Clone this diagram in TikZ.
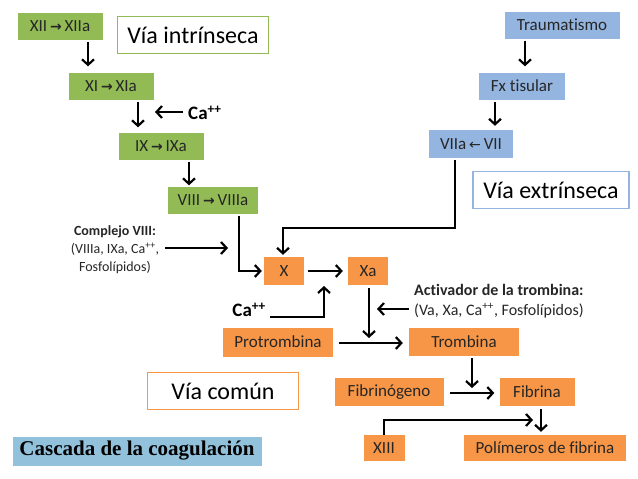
\documentclass[tikz,border=0pt]{standalone}
\usepackage{fontspec}
\setmainfont[Ligatures=NoCommon]{Carlito}
\newfontfamily\symfont{DejaVu Sans}
\newfontfamily\titlefont{Liberation Serif}
\usetikzlibrary{arrows.meta,calc}
\definecolor{cgreen}{HTML}{92BB55}
\definecolor{cblue}{HTML}{93B5E0}
\definecolor{corange}{HTML}{F79646}
\definecolor{ctitle}{HTML}{92C1DC}
\definecolor{ctext}{HTML}{262626}
\newcommand{\ra}{\,{\symfont\bfseries\fontsize{14}{14}\selectfont →}\,}
\newcommand{\la}{\,{\symfont\fontsize{14}{14}\selectfont ←}\,}
\begin{document}
\begin{tikzpicture}[x=1pt,y=-1pt,
  box/.style={inner sep=0pt,minimum height=27pt,text=ctext,font=\fontsize{17}{17}\selectfont},
  gbox/.style={box,fill=cgreen},
  bbox/.style={box,fill=cblue},
  obox/.style={box,fill=corange},
  label/.style={inner sep=0pt,minimum height=37pt,fill=white,line width=1.8pt,font=\fontsize{24}{24}\selectfont},
  arr/.style={line width=2.2pt,-{Straight Barb[length=5.5pt,width=12pt]}},
  ln/.style={line width=2.2pt}
]
\useasboundingbox (0,0) rectangle (638,479);
% intrinsic
\node[gbox,minimum width=85pt] (xii) at (60,26) {XII\ra XIIa};
\node[label,draw=cgreen,minimum width=151pt] (intr) at (193,35) {Vía intrínseca};
\node[gbox,minimum width=85pt] (xi) at (111,86) {XI\ra XIa};
\node[gbox,minimum width=85pt] (ix) at (161,146) {IX\ra IXa};
\node[gbox,minimum width=90pt] (viii) at (213,200) {VIII\ra VIIIa};
\node[anchor=west,inner sep=0pt,font=\fontsize{19}{19}\selectfont\bfseries] (caA) at (188,113) {Ca\textsuperscript{++}};
\coordinate (caAend) at (155,112);
\node[inner sep=0pt,align=center,text=ctext,font=\fontsize{14}{18}\selectfont] (compl) at (115,250) {\textbf{Complejo VIII:}\\(VIIIa, IXa, Ca\textsuperscript{++},\\Fosfolípidos)};
\coordinate (complend) at (228,248);
% extrinsic
\node[bbox,minimum width=115pt] (trauma) at (562,25) {Traumatismo};
\node[bbox,minimum width=86pt] (fx) at (522,86) {Fx tisular};
\node[bbox,minimum width=84pt,minimum height=28pt] (vii) at (471,144) {VIIa\la VII};
\node[label,draw=cblue,minimum width=156pt] (extr) at (551,190) {Vía extrínseca};
% common
\node[obox,minimum width=40pt,minimum height=28pt] (X) at (284,271) {X};
\node[obox,minimum width=40pt,minimum height=28pt] (Xa) at (368,271) {Xa};
\node[anchor=east,inner sep=0pt,font=\fontsize{19}{19}\selectfont\bfseries] (caB) at (266,310) {Ca\textsuperscript{++}};
\coordinate (caBend) at (324,286);
\node[anchor=west,inner sep=0pt,align=left,text=ctext,font=\fontsize{16}{20}\selectfont] (activ) at (414,301) {\textbf{Activador de la trombina:}\\(Va, Xa, Ca\textsuperscript{++}, Fosfolípidos)};
\coordinate (activend) at (377,309);
\node[obox,minimum width=110pt,minimum height=29pt] (protr) at (278,342) {Protrombina};
\node[obox,minimum width=110pt,minimum height=28pt] (tromb) at (464,342) {Trombina};
\coordinate (trjoin) at (369,343);
\node[obox,minimum width=109pt,minimum height=28pt] (fibrinog) at (389,392) {Fibrinógeno};
\node[obox,minimum width=75pt,minimum height=28pt] (fibrina) at (537,392) {Fibrina};
\coordinate (fbjoin) at (472,393);
\node[obox,minimum width=41pt,minimum height=26pt] (xiii) at (384,448) {XIII};
\node[obox,minimum width=162pt,minimum height=26pt] (polim) at (545,448) {Polímeros de fibrina};
\coordinate (poljoin) at (533,420);
\node[label,draw=corange,minimum width=151pt] (comun) at (223,391) {Vía común};
\node[inner sep=0pt,minimum width=249pt,minimum height=29pt,fill=ctitle,font=\titlefont\bfseries\fontsize{21}{21}\selectfont] (casc) at (137,451) {Cascada de la coagulación};
% arrows intrinsic
\draw[arr,shorten <=2pt,shorten >=6pt] (xii.south -| 88,0) -- (xi.north -| 88,0);
\draw[arr,shorten <=2pt,shorten >=5pt] (xi.south -| 138,0) -- (ix.north -| 138,0);
\draw[arr,shorten <=5pt] (caA.west |- caAend) -- (caAend);
\draw[arr,shorten <=2pt,shorten >=1pt] (ix.south -| 189,0) -- (viii.north -| 189,0);
\draw[arr,shorten <=2pt,shorten >=2pt] (viii.south -| 239,0) |- (X.west);
\draw[arr,shorten <=6pt] (compl.east |- complend) -- (complend);
% extrinsic
\draw[arr,shorten <=2pt,shorten >=6pt] (trauma.south -| 525,0) -- (fx.north -| 525,0);
\draw[arr,shorten <=2pt,shorten >=4pt] (fx.south -| 495,0) -- (vii.north -| 495,0);
\draw[arr,shorten <=2pt,shorten >=2pt] (vii.south -| 455,0) -- (455,228) -| (X.north -| 283,0);
% common
\draw[arr,shorten <=4pt,shorten >=5pt] (X.east) -- (Xa.west);
\draw[arr,shorten <=4pt] (caB.east |- 0,317) -| (caBend);
\draw[arr,shorten <=3pt,shorten >=5pt] (Xa.south -| trjoin) -- (trjoin);
\draw[arr,shorten <=5pt] (activ.west |- activend) -- (activend);
\draw[arr,shorten <=6pt,shorten >=6pt] (protr.east |- trjoin) -- (tromb.west |- trjoin);
\draw[arr,shorten <=2pt,shorten >=5pt] (tromb.south -| fbjoin) -- (fbjoin);
\draw[arr,shorten <=6pt,shorten >=5pt] (fibrinog.east |- fbjoin) -- (fibrina.west |- fbjoin);
\draw[arr,shorten <=3pt,shorten >=3pt] (fibrina.south -| 541,0) -- (polim.north -| 541,0);
\draw[arr] (xiii.north) |- (poljoin);
\end{tikzpicture}
\end{document}
